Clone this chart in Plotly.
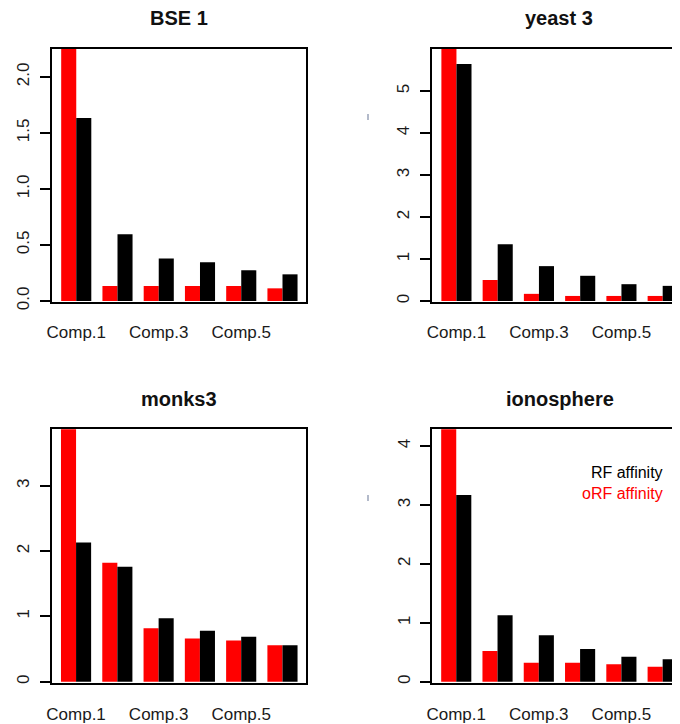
import plotly.graph_objects as go

# The page has an 8px body margin, so the figure is drawn 8px in from the
# window's top-left corner; size it to fill the rest of the 680x724 window.
OFF = 8
FW, FH = 680 - OFF, 724 - OFF

components = ["Comp.1", "Comp.2", "Comp.3", "Comp.4", "Comp.5", "Comp.6"]
tick_labels = ["Comp.1", "Comp.3", "Comp.5"]

titles = ["BSE 1", "yeast 3", "monks3", "ionosphere"]
legend_labels = ["RF affinity", "oRF affinity"]

# oRF affinity (red) and RF affinity (black) per data set
bse_orf = [2.6, 0.134, 0.134, 0.134, 0.134, 0.113]
bse_rf = [1.634, 0.595, 0.38, 0.345, 0.274, 0.238]

yeast_orf = [6.5, 0.5, 0.17, 0.12, 0.12, 0.12]
yeast_rf = [5.64, 1.35, 0.83, 0.6, 0.40, 0.36]

monks_orf = [4.3, 1.82, 0.82, 0.66, 0.63, 0.56]
monks_rf = [2.13, 1.76, 0.97, 0.78, 0.69, 0.56]

iono_orf = [4.6, 0.52, 0.32, 0.32, 0.295, 0.255]
iono_rf = [3.17, 1.13, 0.79, 0.555, 0.425, 0.38]

orf_sets = [bse_orf, yeast_orf, monks_orf, iono_orf]
rf_sets = [bse_rf, yeast_rf, monks_rf, iono_rf]

y_ticks = [[0, 0.5, 1.0, 1.5, 2.0], [0, 1, 2, 3, 4, 5], [0, 1, 2, 3], [0, 1, 2, 3, 4]]
y_ticktext = [["0.0", "0.5", "1.0", "1.5", "2.0"], ["0", "1", "2", "3", "4", "5"],
              ["0", "1", "2", "3"], ["0", "1", "2", "3", "4"]]
y_ranges = [[-0.009, 2.25], [-0.024, 6.0], [-0.0245, 3.865], [-0.027, 4.285]]


def px(x):
    return (x - OFF) / FW


def py(y):
    return 1 - (y - OFF) / FH


# screen-pixel boxes: left, right, top, bottom
boxes = [(51.5, 306, 49, 302), (431.7, 680, 49, 302),
         (51.7, 306, 429.3, 683.3), (432.3, 680, 429.3, 683.3)]
x_ranges = [[-0.6, 5.57], [-0.6, 5.42], [-0.59, 5.57], [-0.58, 5.42]]

fig = go.Figure()
tick_font = dict(family="Liberation Sans, Arial, sans-serif", size=17, color="#1a1a1a")

for i in range(4):
    xa = "x" if i == 0 else f"x{i+1}"
    ya = "y" if i == 0 else f"y{i+1}"
    fig.add_trace(go.Bar(x=components, y=orf_sets[i], marker=dict(color="#ff0000", line=dict(width=0)),
                         xaxis=xa, yaxis=ya, showlegend=False, name="oRF affinity"))
    fig.add_trace(go.Bar(x=components, y=rf_sets[i], marker=dict(color="#000000", line=dict(width=0)),
                         xaxis=xa, yaxis=ya, showlegend=False, name="RF affinity"))
    l, r, t, b = boxes[i]
    right_panel = i in (1, 3)
    xkey = "xaxis" if i == 0 else f"xaxis{i+1}"
    ykey = "yaxis" if i == 0 else f"yaxis{i+1}"
    fig.layout[xkey] = dict(domain=[px(l), min(1.0, px(r))], anchor=ya, type="category",
                            range=x_ranges[i], showgrid=False, zeroline=False,
                            showline=True, mirror=True, linecolor="black", linewidth=2,
                            ticks="", tickmode="array", tickvals=tick_labels, ticktext=tick_labels,
                            tickfont=tick_font, ticklabelstandoff=14, fixedrange=True)
    fig.layout[ykey] = dict(domain=[py(b), py(t)], anchor=xa, range=y_ranges[i],
                            showgrid=False, zeroline=False, showline=True,
                            mirror=(not right_panel), linecolor="black", linewidth=2,
                            ticks="outside", ticklen=10, tickwidth=1.5, tickcolor="black",
                            tickmode="array", tickvals=y_ticks[i], ticktext=y_ticktext[i],
                            tickangle=-90, tickfont=tick_font, ticklabelstandoff=4, fixedrange=True)
    cx = (l + (687 if right_panel else r)) / 2
    ty = 18 if i < 2 else 399
    fig.add_annotation(x=px(cx), y=py(ty), xref="paper", yref="paper", text=f"<b>{titles[i]}</b>",
                       showarrow=False, xanchor="center", yanchor="middle",
                       font=dict(family="Liberation Sans, Arial, sans-serif", size=20, color="#111"))

# legend text in ionosphere panel (one block, two coloured lines)
legend_text = (f"<span style='color:#000000'>{legend_labels[0]}</span><br>"
               f"<span style='color:#ff0000'>{legend_labels[1]}</span>")
fig.add_annotation(x=px(665), y=py(483), xref="paper", yref="paper", text=legend_text,
                   showarrow=False, xanchor="right", yanchor="middle", align="right",
                   font=dict(family="Liberation Sans, Arial, sans-serif", size=16, color="black"))

# faint axis-label remnants
for yy in (117, 498):
    fig.add_shape(type="line", xref="paper", yref="paper", x0=px(368), x1=px(368),
                  y0=py(yy - 3), y1=py(yy + 3), line=dict(color="#9aa3b8", width=1.5))

fig.update_layout(width=FW, height=FH, margin=dict(l=0, r=0, t=0, b=0, autoexpand=False),
                  paper_bgcolor="white", plot_bgcolor="white",
                  barmode="group", bargap=0.27, bargroupgap=0.0)

fig.write_html("out.html", config={"displayModeBar": False})
